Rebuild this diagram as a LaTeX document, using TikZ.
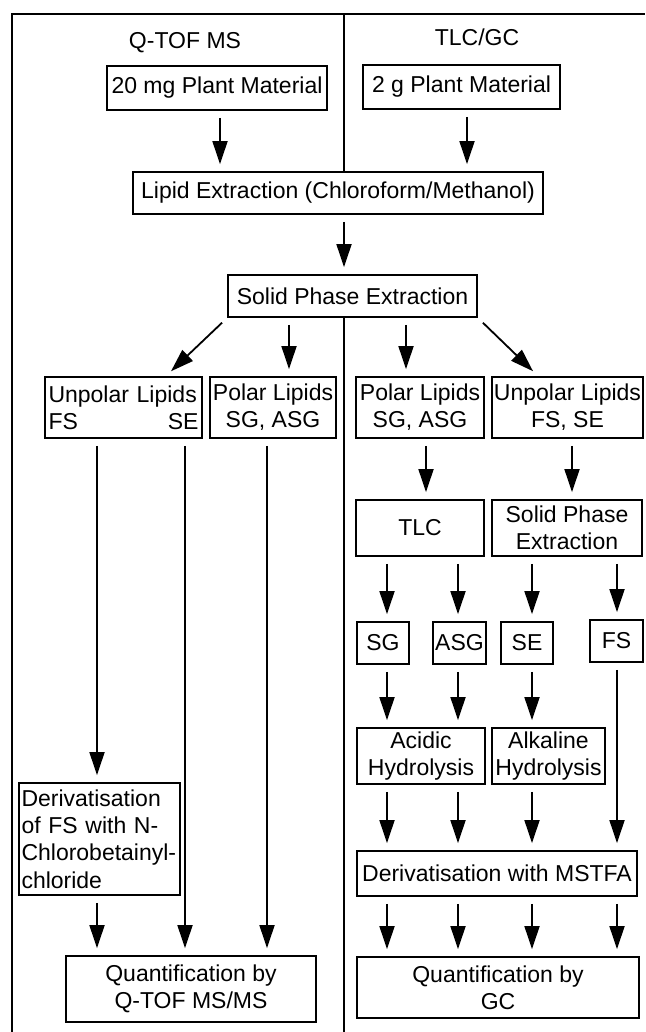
\documentclass[tikz,border=0pt]{standalone}
\usepackage{fontspec}
\setmainfont{Liberation Sans}
\usetikzlibrary{arrows.meta,calc}

\begin{document}
\begin{tikzpicture}[
  x=0.5pt, y=-0.5pt,
  font=\fontsize{11.5}{13.6}\selectfont,
  box/.style={rectangle, draw, line width=0.9pt, inner sep=1pt, align=center},
  arr/.style={-{Triangle[length=11.5pt,width=7.5pt]}, line width=0.9pt,
              shorten <=3.5pt, shorten >=3.5pt},
  rule/.style={line width=0.9pt}
]
  \useasboundingbox (0,0) rectangle (645,1032);

  % Frame and divider
  \coordinate (fbl) at (12,1032);
  \coordinate (ftl) at (12,14);
  \coordinate (ftr) at (645,14);
  \coordinate (div) at (344,14);
  \coordinate (divend) at (344,1032);
  \draw[rule] (fbl) -- (ftl) -- (ftr);

  \node (tqtof) at (185,43) {Q-TOF MS};
  \node (ttlc) at (477,37) {TLC/GC};

  \node[box, minimum width=110pt, minimum height=22pt] (pm20) at (217,88) {20 mg Plant Material};
  \node[box, minimum width=98.5pt, minimum height=22pt] (pm2) at (461.5,87) {2 g Plant Material};
  \node[box, minimum width=205pt, minimum height=21pt] (lipid) at (338,193) {Lipid Extraction (Chloroform/Methanol)};
  \node[box, minimum width=124.5pt, minimum height=21pt] (spe) at (352.5,296) {Solid Phase Extraction};

  \draw[rule] (div) -- (div |- lipid.north);
  \draw[rule] (div |- spe.south) -- (divend);

  % Q-TOF MS branch
  \node[box, align=left, text width=75pt, inner xsep=1.75pt, minimum height=30.5pt] (unpolL) at (123.5,407.5) {Unpolar Lipids\\FS\hfill SE};
  \node[box, minimum width=63pt, minimum height=30.5pt] (polL) at (273,407.5) {Polar Lipids\\SG, ASG};
  \node[box, align=left, text width=78pt, inner xsep=1.25pt, minimum height=56pt] (derivL) at (99.5,839) {Derivatisation\\of FS with N-\\Chlorobetainyl-\\chloride};
  \node[box, minimum width=125pt, minimum height=33pt] (quantQ) at (191,989) {Quantification by\\ Q-TOF MS/MS};

  % TLC/GC branch
  \node[box, minimum width=64pt, minimum height=30.5pt] (polR) at (420,407.5) {Polar Lipids\\SG, ASG};
  \node[box, minimum width=75.5pt, minimum height=30.5pt] (unpolR) at (567.5,407.5) {Unpolar Lipids\\FS, SE};
  \node[box, minimum width=64pt, minimum height=28pt] (tlc) at (420,528) {TLC};
  \node[box, minimum width=75pt, minimum height=28pt] (spe2) at (567,528) {Solid Phase\\Extraction};
  \node[box, minimum width=26pt, minimum height=21pt] (sg) at (383,643) {SG};
  \node[box, minimum width=26.5pt, minimum height=21pt] (asg) at (459.5,643) {ASG};
  \node[box, minimum width=26pt, minimum height=21pt] (se) at (527,643) {SE};
  \node[box, minimum width=26.5pt, minimum height=21pt] (fs) at (616.5,641) {FS};
  \node[box, minimum width=64pt, minimum height=28pt] (acid) at (421,756) {Acidic\\Hydrolysis};
  \node[box, minimum width=56.5pt, minimum height=28pt] (alk) at (548.5,756) {Alkaline\\Hydrolysis};
  \node[box, minimum width=140pt, minimum height=22.5pt] (mstfa) at (497,873.5) {Derivatisation with MSTFA};
  \node[box, minimum width=141pt, minimum height=30.5pt] (gc) at (498,987.5) {Quantification by\\GC};

  % Arrow columns
  \coordinate (a1) at (220,0);
  \coordinate (a2) at (467,0);
  \coordinate (b1) at (289,0);
  \coordinate (b2) at (406,0);
  \coordinate (l1) at (97,0);
  \coordinate (l2) at (185,0);
  \coordinate (l3) at (267,0);
  \coordinate (r1) at (426,0);
  \coordinate (r2) at (572,0);
  \coordinate (k1) at (387,0);
  \coordinate (k2) at (458,0);
  \coordinate (k3) at (532,0);
  \coordinate (k4) at (617,0);

  \draw[arr] (pm20.south -| a1) -- (lipid.north -| a1);
  \draw[arr] (pm2.south -| a2) -- (lipid.north -| a2);
  \draw[arr] (lipid.south -| div) -- (spe.north -| div);

  \draw[arr] (spe.south west) -- ($(unpolL.north east)+(-37,0)$);
  \draw[arr] (spe.south -| b1) -- (polL.north -| b1);
  \draw[arr] (spe.south -| b2) -- (polR.north -| b2);
  \draw[arr] (spe.south east) -- ($(unpolR.north west)+(47,0)$);

  \draw[arr] (unpolL.south -| l1) -- (derivL.north -| l1);
  \draw[arr] (derivL.south -| l1) -- (quantQ.north -| l1);
  \draw[arr] (unpolL.south -| l2) -- (quantQ.north -| l2);
  \draw[arr] (polL.south -| l3) -- (quantQ.north -| l3);

  \draw[arr] (polR.south -| r1) -- (tlc.north -| r1);
  \draw[arr] (unpolR.south -| r2) -- (spe2.north -| r2);
  \draw[arr] (tlc.south -| k1) -- (sg.north -| k1);
  \draw[arr] (tlc.south -| k2) -- (asg.north -| k2);
  \draw[arr] (spe2.south -| k3) -- (se.north -| k3);
  \draw[arr] (spe2.south -| k4) -- (fs.north -| k4);

  \draw[arr] (sg.south -| k1) -- (acid.north -| k1);
  \draw[arr] (asg.south -| k2) -- (acid.north -| k2);
  \draw[arr] (se.south -| k3) -- (alk.north -| k3);
  \draw[arr] (fs.south -| k4) -- (mstfa.north -| k4);
  \draw[arr] (acid.south -| k1) -- (mstfa.north -| k1);
  \draw[arr] (acid.south -| k2) -- (mstfa.north -| k2);
  \draw[arr] (alk.south -| k3) -- (mstfa.north -| k3);

  \foreach \k in {k1,k2,k3,k4}
    \draw[arr] (mstfa.south -| \k) -- (gc.north -| \k);
\end{tikzpicture}
\end{document}
